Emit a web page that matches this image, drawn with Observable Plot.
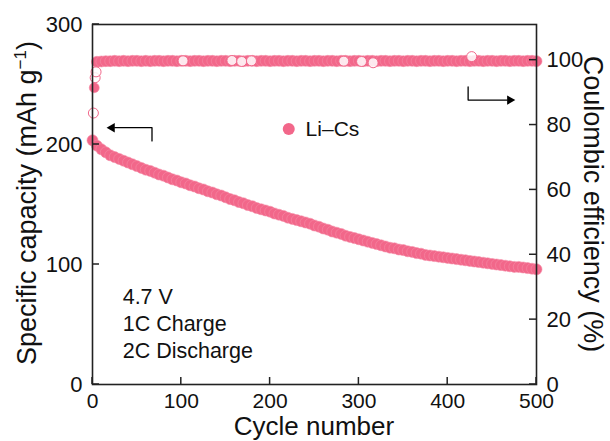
<!DOCTYPE html>
<html><head><meta charset="utf-8">
<script src="https://cdn.jsdelivr.net/npm/d3@7"></script>
<script src="https://cdn.jsdelivr.net/npm/@observablehq/plot@0.6"></script>
<style>body{margin:0;background:#fff}#chart{width:610px;height:441px}</style>
</head><body><div id="chart"></div>
<script>
// ---- data ----
const capCycles = [0,5,10,15,20,25,30,35,40,45,50,55,60,65,70,75,80,85,90,95,100,105,110,115,120,125,130,135,140,145,150,155,160,165,170,175,180,185,190,195,200,205,210,215,220,225,230,235,240,245,250,255,260,265,270,275,280,285,290,295,300,305,310,315,320,325,330,335,340,345,350,355,360,365,370,375,380,385,390,395,400,405,410,415,420,425,430,435,440,445,450,455,460,465,470,475,480,485,490,495,500];
const capacity = [203.5,199,196,193.5,191,189.5,188,186.5,185,183.5,182,180.5,179,178,176.5,175,174,172.5,171,170,168.5,167.5,166,165,163.5,162.5,161,160,158.5,157.5,156,154.5,153.5,152,151,149.5,148.5,147,146,145,144,142.5,141.5,140.5,139,138,137,136,135,134,132.5,131.5,130,129,127.5,126.5,125.5,124,123,122,121,120,119,118,117,116,115,114,113.5,112.5,112,111,110.5,109.5,109,108,107.5,107,106.5,106,105.5,105,104.5,104,103.5,103,102.5,102,101.5,101,100.5,100,99.5,99,98.5,98,98,97.5,97,96.5,96];
const ceCycles = capCycles.slice(1);
const ce = [99.5,99.6,99.7,99.7,99.8,99.7,99.8,99.7,99.8,99.8,99.7,99.8,99.7,99.8,99.8,99.7,99.8,99.8,99.7,99.8,99.8,99.7,99.8,99.8,99.7,99.8,99.8,99.7,99.8,99.8,99.7,99.8,99.8,99.7,99.8,99.8,99.7,99.8,99.8,99.7,99.8,99.8,99.7,99.8,99.8,99.7,99.8,99.8,99.7,99.8,99.8,99.7,99.8,99.8,99.7,99.8,99.8,99.7,99.8,99.8,99.7,99.8,99.8,99.7,99.8,99.8,99.7,99.8,99.8,99.7,99.8,99.8,99.7,99.8,99.8,99.7,99.8,99.8,99.7,99.8,99.8,99.7,99.8,99.8,99.7,99.8,99.8,99.7,99.8,99.8,99.7,99.8,99.8,99.7,99.8,99.8,99.7,99.8,99.8,99.7];
const ceEarlyCycles = [2];
const ceEarly = [91.5];
const ceOpenCycles = [1,3,4,102,157,168,179,283,303,316,427];
const ceOpen = [83.7,94.6,96.4,99.8,99.9,99.6,99.8,99.7,99.6,99.2,101.1];
const xTicks = [0,100,200,300,400,500];
const leftTicks = [0,100,200,300];
const rightTicks = [0,20,40,60,80,100];
const seriesName = "Li\u2013Cs";
const notes = ["4.7 V","1C Charge","2C Discharge"];

// ---- layout / style ----
const pink = "#f2678a";
const xMax = 500, yMax = 300, rightMax = 111;
const K = yMax / rightMax; // CE % -> left-axis units
const notePos = [{x: 34, y: 73}, {x: 34, y: 50.5}, {x: 34, y: 28}];
const legendPos = {dot: {x: 221, y: 213}, text: {x: 240, y: 213}};
const leftArrow = {x0: 67, y0: 203, x1: 67, y1: 214, tip: 19};
const rightArrow = {x0: 423, y0: 248, x1: 423, y1: 237, tip: 473};
const W = 610, H = 441, mL = 92, mR = 74, mT = 24, mB = 57;
const tickLen = 7;

const capData = capCycles.map((c, i) => ({c, v: capacity[i]}));
const ceData = ceCycles.map((c, i) => ({c, v: ce[i] * K}));
const ceEarlyData = ceEarlyCycles.map((c, i) => ({c, v: ceEarly[i] * K}));
const ceOpenData = ceOpenCycles.map((c, i) => ({c, v: ceOpen[i] * K}));
const noteData = notes.map((t, i) => ({t, ...notePos[i]}));

const font = "'Liberation Sans', Arial, sans-serif";
const plot = Plot.plot({
  width: W, height: H,
  marginLeft: mL, marginRight: mR, marginTop: mT, marginBottom: mB,
  x: {domain: [0, xMax]},
  y: {domain: [0, yMax]},
  style: {fontFamily: font, fontSize: "21px", color: "#111", background: "white", overflow: "visible"},
  marks: [
    Plot.dot(capData, {x: "c", y: "v", r: 5.5, fill: pink, stroke: "#f58ba6", strokeWidth: 0.6}),
    Plot.dot(ceData, {x: "c", y: "v", r: 5.5, fill: pink, stroke: "#f58ba6", strokeWidth: 0.6}),
    Plot.dot(ceEarlyData, {x: "c", y: "v", r: 5, fill: pink, stroke: "#f58ba6", strokeWidth: 0.6}),
    Plot.dot(ceOpenData, {x: "c", y: "v", r: 5, fill: "white", fillOpacity: 0.85, stroke: pink, strokeWidth: 1}),
    // arrows
    Plot.line([{x: leftArrow.x0, y: leftArrow.y0}, {x: leftArrow.x1, y: leftArrow.y1}, {x: leftArrow.tip + 6, y: leftArrow.y1}], {x: "x", y: "y", stroke: "black", strokeWidth: 1.3}),
    Plot.dot([{x: leftArrow.tip + 3, y: leftArrow.y1}], {x: "x", y: "y", symbol: "triangle", rotate: -90, r: 3.5, fill: "black"}),
    Plot.line([{x: rightArrow.x0, y: rightArrow.y0}, {x: rightArrow.x1, y: rightArrow.y1}, {x: rightArrow.tip - 6, y: rightArrow.y1}], {x: "x", y: "y", stroke: "black", strokeWidth: 1.3}),
    Plot.dot([{x: rightArrow.tip - 3, y: rightArrow.y1}], {x: "x", y: "y", symbol: "triangle", rotate: 90, r: 3.5, fill: "black"}),
    // legend
    Plot.dot([legendPos.dot], {x: "x", y: "y", r: 6, fill: pink}),
    Plot.text([seriesName], {x: legendPos.text.x, y: legendPos.text.y, text: d => d, textAnchor: "start", fontSize: 21, fill: "#111"}),
    // notes
    Plot.text(noteData, {x: "x", y: "y", text: "t", textAnchor: "start", fontSize: 21.5, fill: "#111"}),
    Plot.frame({stroke: "#222", strokeWidth: 1.6}),
    Plot.axisX({ticks: xTicks, tickSize: 0, tickPadding: 9, label: null, fontSize: 21}),
    Plot.axisY({ticks: leftTicks, tickSize: 0, tickPadding: 10, label: null, fontSize: 22}),
    Plot.axisY(rightTicks.map(v => v * K), {anchor: "right", tickSize: 0, tickPadding: 10, label: null, fontSize: 22, tickFormat: d => Math.round(d / K)})
  ]
});
document.getElementById("chart").append(plot);

const svg = d3.select(plot);
// inward tick marks, positioned with the plot's own scales
const xs = plot.scale("x"), ys = plot.scale("y");
const X = v => xs.apply(v), Y = v => ys.apply(v);
const left = X(0), right = X(xMax), bottom = Y(0);
const tg = svg.append("g").attr("stroke", "#222").attr("stroke-width", 1.5);
xTicks.forEach(v => tg.append("line").attr("x1", X(v)).attr("x2", X(v)).attr("y1", bottom).attr("y2", bottom - tickLen));
leftTicks.forEach(v => tg.append("line").attr("x1", left).attr("x2", left + tickLen).attr("y1", Y(v)).attr("y2", Y(v)));
rightTicks.forEach(v => tg.append("line").attr("x1", right - tickLen).attr("x2", right).attr("y1", Y(v * K)).attr("y2", Y(v * K)));

// axis titles
svg.append("text").attr("x", 314).attr("y", 435).attr("text-anchor", "middle")
  .attr("font-family", font).attr("font-size", 26).attr("fill", "#111").text("Cycle number");
const lt = svg.append("text").attr("transform", "translate(36,203) rotate(-90)").attr("text-anchor", "middle")
  .attr("font-family", font).attr("font-size", 27).attr("fill", "#111");
lt.append("tspan").text("Specific capacity (mAh g");
lt.append("tspan").attr("dy", -10).attr("font-size", 17).text("\u22121");
lt.append("tspan").attr("dy", 10).text(")");
svg.append("text").attr("transform", "translate(584,204) rotate(90)").attr("text-anchor", "middle")
  .attr("font-family", font).attr("font-size", 27).attr("fill", "#111").text("Coulombic efficiency (%)");
</script>
</body></html>
